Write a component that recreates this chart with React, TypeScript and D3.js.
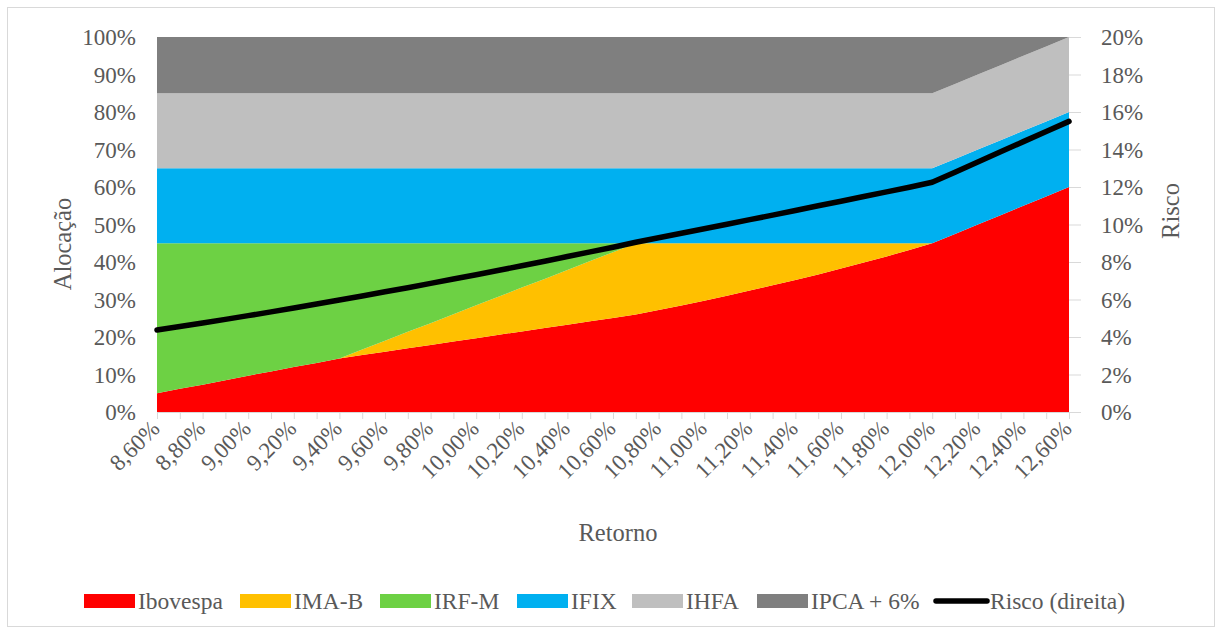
import React from "react";
import * as d3 from "d3";

// Retorno (%) — one category per 0,10 p.p.
const categories = [
  8.6, 8.7, 8.8, 8.9, 9.0, 9.1, 9.2, 9.3, 9.4, 9.5, 9.6, 9.7, 9.8, 9.9, 10.0,
  10.1, 10.2, 10.3, 10.4, 10.5, 10.6, 10.7, 10.8, 10.9, 11.0, 11.1, 11.2, 11.3,
  11.4, 11.5, 11.6, 11.7, 11.8, 11.9, 12.0, 12.1, 12.2, 12.3, 12.4, 12.5, 12.6,
];

// Allocation per asset class (% of portfolio)
const ibovespa = [
  5.0, 6.2, 7.3, 8.5, 9.7, 10.8, 12.0, 13.1, 14.3, 15.2, 16.1, 17.0, 17.9, 18.8,
  19.7, 20.6, 21.5, 22.4, 23.3, 24.2, 25.1, 26.0, 27.2, 28.4, 29.7, 31.0, 32.4,
  33.8, 35.2, 36.7, 38.3, 39.9, 41.5, 43.2, 45.0, 47.5, 50.0, 52.5, 55.0, 57.5,
  60.0,
];
const imaB = [
  0, 0, 0, 0, 0, 0, 0, 0, 0, 1.5, 2.9, 4.4, 5.8, 7.3, 8.8, 10.2, 11.7, 13.1,
  14.6, 16.1, 17.5, 19.0, 17.8, 16.6, 15.3, 14.0, 12.6, 11.2, 9.8, 8.3, 6.7, 5.1,
  3.5, 1.8, 0, 0, 0, 0, 0, 0, 0,
];
const irfM = [
  40.0, 38.8, 37.7, 36.5, 35.3, 34.2, 33.0, 31.9, 30.7, 28.3, 26.0, 23.6, 21.3,
  18.9, 16.5, 14.2, 11.8, 9.5, 7.1, 4.7, 2.4, 0, 0, 0, 0, 0, 0, 0, 0, 0, 0, 0,
  0, 0, 0, 0, 0, 0, 0, 0, 0,
];
const ifix = [
  20, 20, 20, 20, 20, 20, 20, 20, 20, 20, 20, 20, 20, 20, 20, 20, 20, 20, 20,
  20, 20, 20, 20, 20, 20, 20, 20, 20, 20, 20, 20, 20, 20, 20, 20, 20, 20, 20,
  20, 20, 20,
];
const ihfa = [
  20, 20, 20, 20, 20, 20, 20, 20, 20, 20, 20, 20, 20, 20, 20, 20, 20, 20, 20,
  20, 20, 20, 20, 20, 20, 20, 20, 20, 20, 20, 20, 20, 20, 20, 20, 20, 20, 20,
  20, 20, 20,
];
const ipca6 = [
  15, 15, 15, 15, 15, 15, 15, 15, 15, 15, 15, 15, 15, 15, 15, 15, 15, 15, 15,
  15, 15, 15, 15, 15, 15, 15, 15, 15, 15, 15, 15, 15, 15, 15, 15, 12.5, 10,
  7.5, 5, 2.5, 0,
];

// Portfolio risk (%), right axis
const risco = [
  4.37, 4.56, 4.75, 4.94, 5.14, 5.34, 5.55, 5.76, 5.97, 6.19, 6.41, 6.63, 6.86,
  7.09, 7.32, 7.56, 7.8, 8.04, 8.29, 8.54, 8.79, 9.05, 9.29, 9.53, 9.77, 10.01,
  10.26, 10.5, 10.75, 11.0, 11.24, 11.49, 11.74, 11.99, 12.25, 12.79, 13.33,
  13.88, 14.42, 14.96, 15.5,
];

const leftTicks = [0, 10, 20, 30, 40, 50, 60, 70, 80, 90, 100];
const rightTicks = [0, 2, 4, 6, 8, 10, 12, 14, 16, 18, 20];

const seriesNames = ["Ibovespa", "IMA-B", "IRF-M", "IFIX", "IHFA", "IPCA + 6%"];
const seriesValues = [ibovespa, imaB, irfM, ifix, ihfa, ipca6];
const seriesColors = ["#ff0000", "#ffc000", "#6dd144", "#00b0f0", "#bfbfbf", "#7f7f7f"];

const W = 1216;
const H = 634;
const plot = { left: 157, right: 1069, top: 37, bottom: 412 };
const TEXT = "#595959";
const FONT = "'Liberation Serif', 'Times New Roman', serif";

export default function App() {
  const x = d3
    .scalePoint<number>()
    .domain(categories)
    .range([plot.left, plot.right]);
  const y = d3.scaleLinear().domain([0, 100]).range([plot.bottom, plot.top]);
  const yR = d3.scaleLinear().domain([0, 20]).range([plot.bottom, plot.top]);

  const rows = categories.map((c, i) => {
    const row: Record<string, number> = { cat: c };
    seriesNames.forEach((n, k) => (row[n] = seriesValues[k][i]));
    return row;
  });
  const stacked = d3.stack<Record<string, number>>().keys(seriesNames)(rows);

  const area = d3
    .area<any>()
    .x((d) => x(d.data.cat) as number)
    .y0((d) => y(d[0]))
    .y1((d) => y(d[1]));

  const riskLine = d3
    .line<number>()
    .x((_, i) => x(categories[i]) as number)
    .y((d) => yR(d));

  const fmtCat = (v: number) => d3.format(".2f")(v).replace(".", ",") + "%";

  // legend layout: swatch x positions
  const legendItems = [
    ...seriesNames.map((n, k) => ({ name: n, color: seriesColors[k], line: false })),
    { name: "Risco (direita)", color: "#000000", line: true },
  ];
  const legendX = [84, 240, 380, 517, 632, 757, 936];
  const legendY = 601;

  return (
    <svg
      width={W}
      height={H}
      style={{ position: "absolute", left: 0, top: 0, background: "#fff" }}
      fontFamily={FONT}
    >
      <rect x={7.5} y={7.5} width={1207} height={619} fill="#fff" stroke="#d9d9d9" />

      {stacked.map((s, k) => (
        <path key={s.key} d={area(s as any) || ""} fill={seriesColors[k]} />
      ))}

      {/* category axis */}
      <line x1={plot.left} x2={plot.right} y1={plot.bottom + 0.5} y2={plot.bottom + 0.5} stroke="#d9d9d9" />
      {categories.map((c) => (
        <line
          key={"t" + c}
          x1={(x(c) as number) + 0.5}
          x2={(x(c) as number) + 0.5}
          y1={plot.bottom}
          y2={plot.bottom + 7}
          stroke="#d9d9d9"
        />
      ))}
      {categories.map((c, i) =>
        i % 2 === 0 ? (
          <text
            key={"l" + c}
            transform={`translate(${(x(c) as number) + 4},${plot.bottom + 18}) rotate(-45)`}
            textAnchor="end"
            fontSize={23}
            fill={TEXT}
          >
            {fmtCat(c)}
          </text>
        ) : null
      )}

      {/* left axis */}
      {leftTicks.map((t) => (
        <text
          key={"yl" + t}
          x={136}
          y={y(t)}
          dy="0.35em"
          textAnchor="end"
          fontSize={23}
          fill={TEXT}
        >
          {t + "%"}
        </text>
      ))}

      {/* right axis */}
      {rightTicks.map((t) => (
        <g key={"yr" + t}>
          <line x1={plot.right} x2={plot.right + 12} y1={yR(t) + 0.5} y2={yR(t) + 0.5} stroke="#d9d9d9" />
          <text x={1101} y={yR(t)} dy="0.35em" fontSize={23} fill={TEXT}>
            {t + "%"}
          </text>
        </g>
      ))}

      <path
        d={riskLine(risco) || ""}
        fill="none"
        stroke="#000"
        strokeWidth={5.5}
        strokeLinejoin="round"
        strokeLinecap="round"
      />

      {/* axis titles */}
      <text
        transform="translate(71,244) rotate(-90)"
        textAnchor="middle"
        fontSize={24.5}
        fill={TEXT}
      >
        Alocação
      </text>
      <text
        transform="translate(1179,211) rotate(-90)"
        textAnchor="middle"
        fontSize={24.5}
        fill={TEXT}
      >
        Risco
      </text>
      <text x={618} y={541} textAnchor="middle" fontSize={24.5} fill={TEXT}>
        Retorno
      </text>

      {/* legend */}
      {legendItems.map((it, i) => (
        <g key={it.name}>
          {it.line ? (
            <line
              x1={legendX[i]}
              x2={legendX[i] + 51}
              y1={legendY}
              y2={legendY}
              stroke="#000"
              strokeWidth={5.5}
              strokeLinecap="round"
            />
          ) : (
            <rect x={legendX[i]} y={legendY - 7} width={51} height={14} fill={it.color} />
          )}
          <text x={legendX[i] + 54} y={legendY} dy="0.35em" fontSize={23.5} fill={TEXT}>
            {it.name}
          </text>
        </g>
      ))}
    </svg>
  );
}
